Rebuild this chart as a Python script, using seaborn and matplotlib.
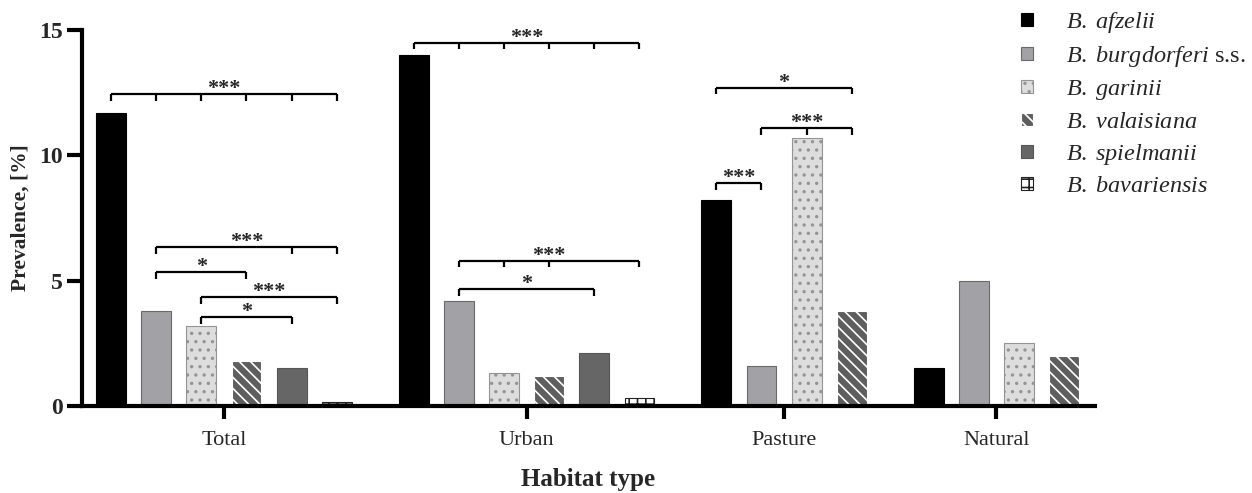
import numpy as np
import pandas as pd
import matplotlib
matplotlib.use("Agg")
import matplotlib.pyplot as plt
import seaborn as sns
from matplotlib.patches import Patch

# ---------------- data ----------------
habitats = ["Total", "Urban", "Pasture", "Natural"]
species = ["B. afzelii", "B. burgdorferi s.s.", "B. garinii",
           "B. valaisiana", "B. spielmanii", "B. bavariensis"]
legend_labels = [r"$\mathit{B.\;afzelii}$",
                 r"$\mathit{B.\;burgdorferi}$ s.s.",
                 r"$\mathit{B.\;garinii}$",
                 r"$\mathit{B.\;valaisiana}$",
                 r"$\mathit{B.\;spielmanii}$",
                 r"$\mathit{B.\;bavariensis}$"]
total = [11.7, 3.8, 3.2, 1.8, 1.5, 0.15]
urban = [14.0, 4.2, 1.3, 1.2, 2.1, 0.3]
pasture = [8.2, 1.6, 10.7, 3.8, None, None]
natural = [1.5, 5.0, 2.5, 2.0, None, None]
values_by_habitat = [total, urban, pasture, natural]

# significance brackets: (habitat, species indices with ticks, level, label)
brackets = [
    ("Total", [0, 1, 2, 3, 4, 5], 12.45, "***"),
    ("Total", [1, 4, 5], 6.35, "***"),
    ("Total", [1, 3], 5.35, "*"),
    ("Total", [2, 5], 4.35, "***"),
    ("Total", [2, 4], 3.55, "*"),
    ("Urban", [0, 1, 2, 3, 4, 5], 14.5, "***"),
    ("Urban", [1, 2, 3, 5], 5.8, "***"),
    ("Urban", [1, 4], 4.65, "*"),
    ("Pasture", [0, 3], 12.7, "*"),
    ("Pasture", [1, 2, 3], 11.1, "***"),
    ("Pasture", [0, 1], 8.9, "***"),
]

# ---------------- styles ----------------
styles = {
    "B. afzelii": dict(face="#000000", edge="#000000", hatch=None),
    "B. burgdorferi s.s.": dict(face="#a2a2a6", edge="#6a6a6a", hatch=None),
    "B. garinii": dict(face="#dddddd", edge="#949494", hatch=".."),
    "B. valaisiana": dict(face="#5e5e5e", edge="#ffffff", hatch="\\\\\\"),
    "B. spielmanii": dict(face="#666666", edge="#555555", hatch=None),
    "B. bavariensis": dict(face="#ffffff", edge="#222222", hatch="++"),
}

sns.set_theme(style="white")
plt.rcParams["font.family"] = ["Liberation Serif", "DejaVu Serif"]
plt.rcParams["mathtext.fontset"] = "custom"
plt.rcParams["mathtext.rm"] = "Liberation Serif"
plt.rcParams["mathtext.it"] = "Liberation Serif:italic"
plt.rcParams["hatch.linewidth"] = 1.2

# layout: consecutive slots within a group, extra gap between groups
group_gap = 0.7
rows = []
group_centers = []
cursor = 0.0
for h, vals in zip(habitats, values_by_habitat):
    present = [(s, v) for s, v in zip(species, vals) if v is not None]
    pos_list = []
    for k, (s, v) in enumerate(present):
        p = cursor + k
        rows.append(dict(habitat=h, species=s, value=v, pos=p))
        pos_list.append(p)
    group_centers.append(np.mean(pos_list))
    cursor = pos_list[-1] + 1 + group_gap
df = pd.DataFrame(rows)

fig = plt.figure(figsize=(12.52, 4.93), dpi=100)
ax = fig.add_axes([0.0655, 0.1765, 0.809, 0.7625])

palette = {s: styles[s]["face"] for s in species}
sns.barplot(data=df, x="pos", y="value", hue="species", hue_order=species,
            palette=palette, native_scale=True, dodge=False, width=0.66,
            legend=False, errorbar=None, saturation=1, ax=ax)

for patch in ax.patches:
    cx = patch.get_x() + patch.get_width() / 2
    idx = (df["pos"] - cx).abs().idxmin()
    st = styles[df.loc[idx, "species"]]
    patch.set_facecolor(st["face"])
    patch.set_edgecolor(st["edge"])
    patch.set_linewidth(0.8)
    if st["hatch"]:
        patch.set_hatch(st["hatch"])

# brackets
def xpos(h, s_idx):
    r = df[(df.habitat == h) & (df.species == species[s_idx])]
    return float(r["pos"].iloc[0])

tick_len = 0.27
for h, ticks, lvl, lab in brackets:
    xs = [xpos(h, i) for i in ticks]
    ax.plot([xs[0], xs[-1]], [lvl, lvl], color="black", lw=1.6,
            clip_on=False, solid_capstyle="butt")
    for x in xs:
        ax.plot([x, x], [lvl, lvl - tick_len], color="black", lw=1.6,
                clip_on=False, solid_capstyle="butt")
    ax.text((xs[0] + xs[-1]) / 2, lvl - 0.2, lab, ha="center", va="bottom",
            fontsize=16, fontweight="bold", clip_on=False)

# axes
ax.set_ylim(0, 15)
ax.set_xlim(-0.64, 21.78)
ax.set_yticks([0, 5, 10, 15])
ax.set_xticks(group_centers)
ax.set_xticklabels(habitats)
for sp in ["top", "right"]:
    ax.spines[sp].set_visible(False)
for sp in ["left", "bottom"]:
    ax.spines[sp].set_linewidth(3)
    ax.spines[sp].set_color("black")
ax.tick_params(axis="y", which="major", direction="out", length=11, width=3,
               color="black", pad=3, labelsize=17, left=True)
ax.tick_params(axis="x", which="major", direction="out", length=9, width=3,
               color="black", pad=9, labelsize=16, bottom=True)
for lbl in ax.get_yticklabels():
    lbl.set_fontweight("bold")
ax.set_ylabel("Prevalence, [%]", fontsize=15.5, fontweight="bold", labelpad=6)
ax.set_xlabel("Habitat type", fontsize=18, fontweight="bold", labelpad=13)
ax.grid(False)

handles = [Patch(facecolor=styles[s]["face"], edgecolor=styles[s]["edge"],
                 hatch=styles[s]["hatch"], linewidth=0.8) for s in species]
fig.legend(handles=handles, labels=legend_labels, loc="upper left",
           bbox_to_anchor=(1021 / 1252, 1 - 10 / 493),
           bbox_transform=fig.transFigure, frameon=False, fontsize=17.5,
           handlelength=0.5, handleheight=0.45, handletextpad=1.35,
           labelspacing=0.38, borderpad=0, borderaxespad=0)

fig.savefig("out.png", dpi=100)
